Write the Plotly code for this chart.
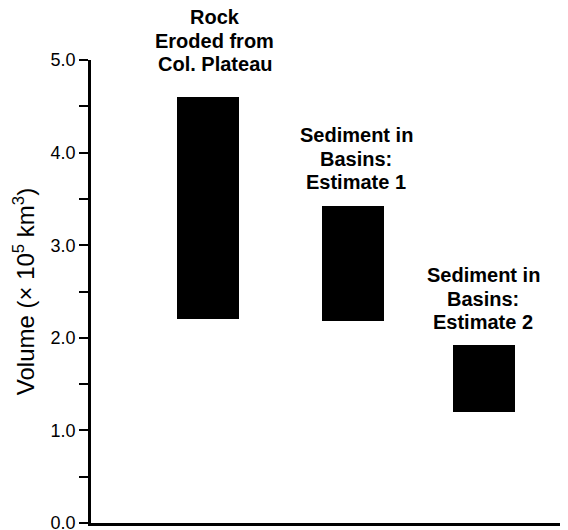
import plotly.graph_objects as go

categories = ["Rock<br>Eroded from<br>Col. Plateau",
              "Sediment in<br>Basins:<br>Estimate 1",
              "Sediment in<br>Basins:<br>Estimate 2"]
x_pos = [0.89, 2.0, 3.0]
bar_top = [4.60, 3.42, 1.92]
bar_bottom = [2.20, 2.18, 1.20]
tick_vals = [0, 0.5, 1, 1.5, 2, 2.5, 3, 3.5, 4, 4.5, 5]
tick_text = ["0.0", "", "1.0", "", "2.0", "", "3.0", "", "4.0", "", "5.0"]

FONT = "Liberation Sans, Arial, Helvetica, sans-serif"

heights = [t - b for t, b in zip(bar_top, bar_bottom)]

fig = go.Figure()
fig.add_trace(go.Bar(x=x_pos, y=heights, base=bar_bottom, width=0.473,
                     marker=dict(color="black", line=dict(width=0)),
                     hoverinfo="skip"))

# label placement (pixels): gap above bar to last line, line spacing, x nudge
label_gap = [20, 11, 10]
label_dx = [7, 3, -1]
LINE_H = 23.5
for xp, top, txt, gap, dx in zip(x_pos, bar_top, categories, label_gap, label_dx):
    lines = txt.split("<br>")
    n = len(lines)
    for i, line in enumerate(lines):
        fig.add_annotation(x=xp, y=top, text="<b>" + line + "</b>", showarrow=False,
                           xanchor="center", yanchor="bottom",
                           yshift=gap + (n - 1 - i) * LINE_H, xshift=dx,
                           font=dict(family=FONT, size=20, color="black"))

# page body has an 8px default margin, so size and margins compensate for it
fig.update_layout(
    width=560, height=522,
    margin=dict(l=83, r=0, t=52, b=7),
    paper_bgcolor="white", plot_bgcolor="white",
    showlegend=False,
    font=dict(family=FONT, color="black"),
    bargap=0,
)
fig.update_xaxes(range=[0, 3.64], showgrid=False, zeroline=False,
                 showticklabels=False, ticks="", showline=True,
                 linecolor="black", linewidth=2.5, fixedrange=True)
fig.update_yaxes(range=[0, 5], showgrid=False, zeroline=False,
                 tickvals=tick_vals, ticktext=tick_text,
                 ticks="outside", ticklen=9, tickwidth=2, tickcolor="black",
                 showline=True, linecolor="black", linewidth=2.5,
                 tickfont=dict(family=FONT, size=18, color="black"),
                 ticklabeloverflow="allow",
                 title=dict(text="Volume (× 10<sup>5</sup> km<sup>3</sup>)",
                            font=dict(family=FONT, size=24, color="black"),
                            standoff=10),
                 automargin=False,
                 fixedrange=True)

fig.write_html("out.html")
